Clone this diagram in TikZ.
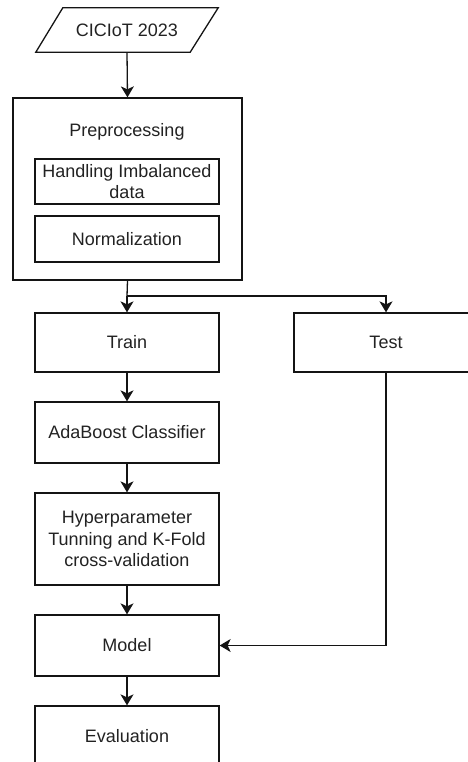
\documentclass[tikz,border=0pt]{standalone}
\usepackage{fontspec}
\setmainfont{Liberation Sans}
\usetikzlibrary{arrows.meta,calc}
\definecolor{txt}{RGB}{34,34,34}
\definecolor{ln}{RGB}{20,20,20}
\begin{document}
\begin{tikzpicture}[x=1pt,y=-1pt,
  every node/.style={font=\fontsize{18}{21.6}\selectfont, text=txt, align=center, inner sep=0pt},
  box/.style={draw=ln, line width=1.3pt, minimum width=184pt},
  conn/.style={draw=ln, line width=1.3pt, -{Stealth[length=11pt,width=13pt,inset=3pt]}},
  plain/.style={draw=ln, line width=1.3pt}]
\useasboundingbox (0,0) rectangle (467,762);
% data source parallelogram
\node (ds) [minimum width=182pt, minimum height=44pt] at (127,30) {CICIoT 2023};
\draw[plain] ([xshift=27pt]ds.north west) -- (ds.north east) -- ([xshift=-28pt]ds.south east) -- (ds.south west) -- cycle;
% preprocessing container
\node (pre) [box, minimum width=229pt, minimum height=182pt] at (127.5,189) {};
\node (pretxt) at (127,132) {Preprocessing};
\node (imb) [box, minimum height=45pt] at (127,181.5) {Handling Imbalanced\\data};
\node (norm) [box, minimum height=46pt] at (127,239) {Normalization};
% main column
\node (train) [box, minimum height=59pt] at (127,342.5) {Train};
\node (test) [box, minimum height=59pt] at (386,342.5) {Test};
\node (ada) [box, minimum height=61pt] at (127,432.5) {AdaBoost Classifier};
\node (hyp) [box, minimum height=92pt] at (127,539) {Hyperparameter\\Tunning and K-Fold\\cross-validation};
\node (model) [box, minimum height=61pt] at (127,645.5) {Model};
\node (eval) [box, minimum height=60pt] at (127,736) {Evaluation};
% connectors
\coordinate (split) at (127,296);
\draw[conn] (ds.south) -- (pre.north);
\draw[plain] (pre.south) -- (split);
\draw[conn] (split) -- (train.north);
\draw[conn] (split) -| (test.north);
\draw[conn] (train.south) -- (ada.north);
\draw[conn] (ada.south) -- (hyp.north);
\draw[conn] (hyp.south) -- (model.north);
\draw[conn] (model.south) -- (eval.north);
\draw[conn] (test.south) |- (model.east);
\end{tikzpicture}
\end{document}
